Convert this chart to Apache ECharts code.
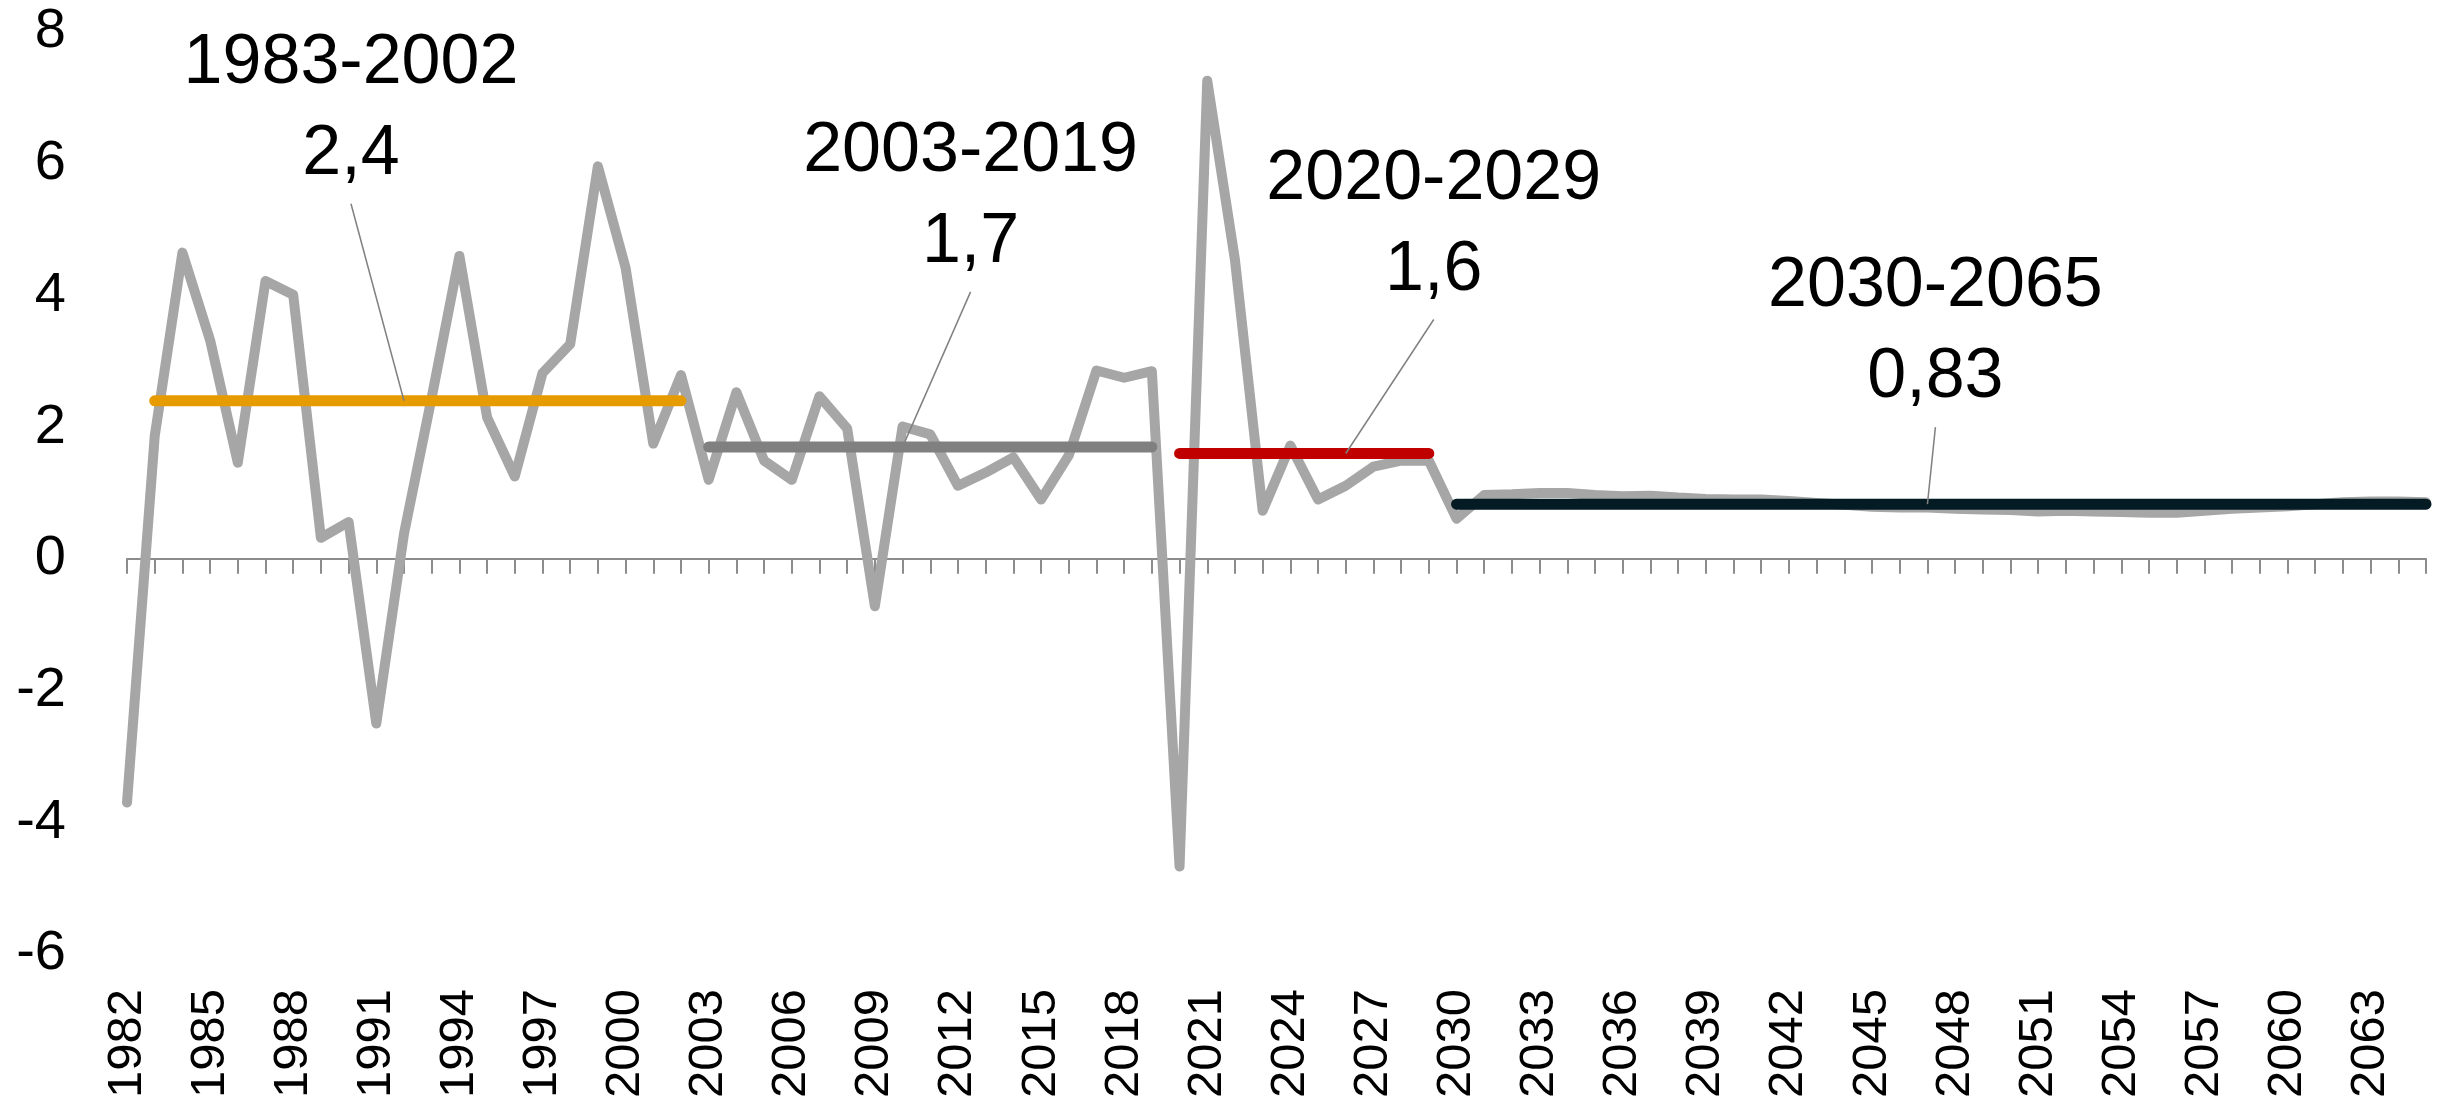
<!DOCTYPE html>
<html>
<head>
<meta charset="utf-8">
<script src="https://cdn.jsdelivr.net/npm/echarts@6/dist/echarts.min.js"></script>
<style>
  html, body { margin: 0; padding: 0; background: #fff; }
  #chart { width: 2443px; height: 1102px; }
</style>
</head>
<body>
<div id="chart"></div>
<script>
// categories: one per year
const years = []
for (let y = 1982; y <= 2065; y++) years.push(String(y))

// yearly growth
const growth = [
  -3.7, 1.86, 4.65, 3.32, 1.46, 4.22, 4.01, 0.32, 0.56, -2.5,    // 1982-1991
  0.38, 2.45, 4.6, 2.15, 1.25, 2.82, 3.26, 5.96, 4.42, 1.75,     // 1992-2001
  2.79, 1.2, 2.53, 1.49, 1.2, 2.47, 1.98, -0.72, 2.01, 1.89,     // 2002-2011
  1.11, 1.31, 1.54, 0.9, 1.57, 2.86, 2.75, 2.85, -4.67, 7.26,    // 2012-2021
  4.54, 0.73, 1.72, 0.9, 1.11, 1.4, 1.49, 1.49, 0.61, 0.97,      // 2022-2031
  0.98, 1.0, 1.0, 0.97, 0.95, 0.96, 0.93, 0.91, 0.9, 0.9,        // 2032-2041
  0.88, 0.85, 0.82, 0.79, 0.78, 0.78, 0.76, 0.75, 0.74, 0.72,    // 2042-2051
  0.73, 0.72, 0.71, 0.7, 0.7, 0.73, 0.76, 0.78, 0.8, 0.83,       // 2052-2061
  0.86, 0.87, 0.87, 0.86                                         // 2062-2065
]

// period averages
const periodNames = ['1983-2002', '2003-2019', '2020-2029', '2030-2065']
const periodStart = [1983, 2003, 2020, 2030]
const periodEnd = [2002, 2019, 2029, 2065]
const periodAverage = [2.4, 1.7, 1.6, 0.83]

// value axis ticks
const yMin = -6
const yMax = 8
const yStep = 2

// styles / layout (not data)
const periodColors = ['#E69B00', '#808080', '#C00000', '#041B23']
const leaderLayout = [
  { year: '1992', dx: -53, dy: -197 },
  { year: '2010', dx: 68, dy: -155 },
  { year: '2026', dx: 88, dy: -134 },
  { year: '2047', dx: 8, dy: -77 }
]
const FONT = 'Liberation Sans, Arial, sans-serif'

const chart = echarts.init(document.getElementById('chart'))

const periodSeries = periodNames.map((name, i) => ({
  name: name,
  type: 'line',
  xAxisIndex: 0,
  yAxisIndex: 0,
  symbol: 'none',
  lineStyle: { color: periodColors[i], width: 11, cap: 'round' },
  data: years.map(y => (+y >= periodStart[i] && +y <= periodEnd[i]) ? periodAverage[i] : null)
}))

chart.setOption({
  animation: false,
  backgroundColor: '#fff',
  grid: {
    left: 127,
    right: 17,
    top: 32,
    bottom: 148,
    containLabel: false,
    outerBoundsMode: 'none'
  },
  xAxis: [
    {
      // zero line with a tick on every year
      type: 'category',
      data: years,
      boundaryGap: false,
      position: 'bottom',
      axisLine: { show: true, onZero: true, lineStyle: { color: '#8c8c8c', width: 2 } },
      axisTick: { show: true, interval: 0, length: 15, lineStyle: { color: '#8c8c8c', width: 2 } },
      axisLabel: { show: false },
      splitLine: { show: false }
    },
    {
      // year labels at the bottom of the plot
      type: 'category',
      data: years,
      boundaryGap: false,
      position: 'bottom',
      axisLine: { show: false, onZero: false },
      axisTick: { show: false },
      axisLabel: {
        interval: 2,
        rotate: 90,
        margin: 35,
        fontSize: 49,
        fontFamily: FONT,
        color: '#000'
      },
      splitLine: { show: false }
    }
  ],
  yAxis: {
    type: 'value',
    min: yMin,
    max: yMax,
    interval: yStep,
    axisLine: { show: false },
    axisTick: { show: false },
    splitLine: { show: false },
    axisLabel: { fontSize: 56, fontFamily: FONT, color: '#000', margin: 61 }
  },
  series: [
    {
      name: 'growth',
      type: 'line',
      xAxisIndex: 0,
      yAxisIndex: 0,
      symbol: 'none',
      lineStyle: { color: '#A6A6A6', width: 10, cap: 'round', join: 'round' },
      data: growth
    },
    ...periodSeries
  ]
})

// annotations: leader line from the average line up to the period text
const graphics = []
leaderLayout.forEach((l, i) => {
  const p = chart.convertToPixel({ xAxisIndex: 0, yAxisIndex: 0 }, [l.year, periodAverage[i]])
  const sx = p[0] + l.dx
  const sy = p[1] + l.dy
  graphics.push({
    type: 'line',
    z: 100,
    shape: { x1: sx, y1: sy, x2: p[0], y2: p[1] },
    style: { stroke: '#808080', lineWidth: 1.5 }
  })
  graphics.push({
    type: 'text',
    z: 100,
    x: sx,
    y: sy - 140,
    style: {
      text: periodNames[i],
      fontSize: 70,
      fontFamily: FONT,
      fill: '#000',
      align: 'center',
      verticalAlign: 'middle'
    }
  })
  graphics.push({
    type: 'text',
    z: 100,
    x: sx,
    y: sy - 49,
    style: {
      text: String(periodAverage[i]).replace('.', ','),
      fontSize: 70,
      fontFamily: FONT,
      fill: '#000',
      align: 'center',
      verticalAlign: 'middle'
    }
  })
})
chart.setOption({ graphic: graphics })
</script>
</body>
</html>
